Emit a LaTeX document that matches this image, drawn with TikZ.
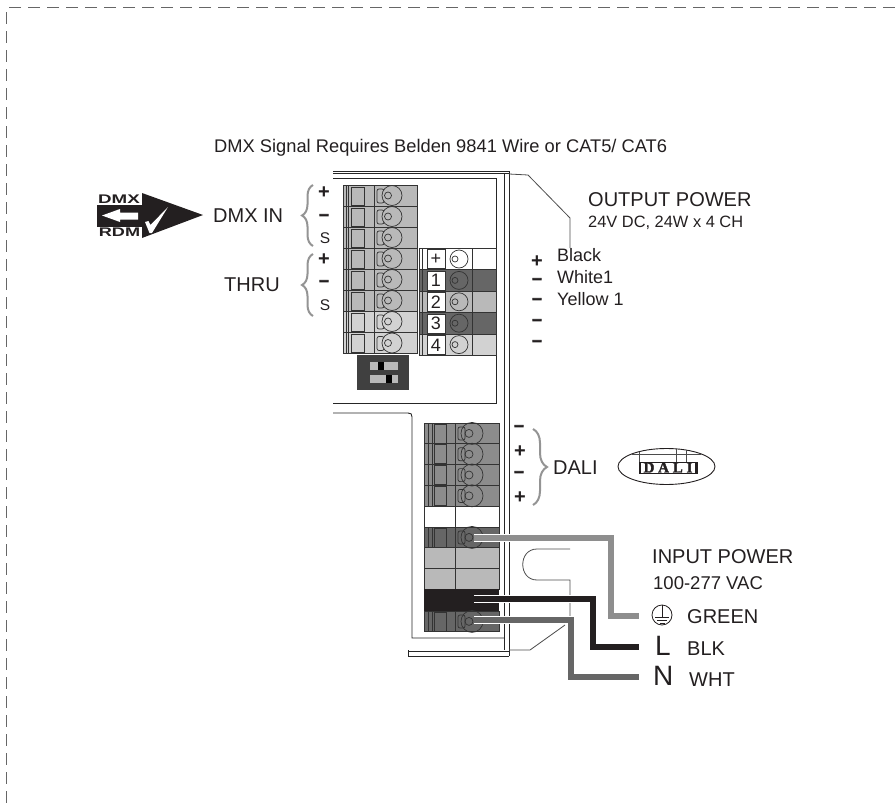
\documentclass[tikz,border=0pt]{standalone}
\usepackage{fontspec}
\setmainfont{Liberation Sans}
\newfontfamily\logoserif{Liberation Serif}
\usetikzlibrary{decorations.pathreplacing, shapes.geometric}

\definecolor{inkdark}{HTML}{231F20}
\definecolor{rowgray}{HTML}{B9B9B9}
\definecolor{rowlight}{HTML}{D2D2D2}
\definecolor{rowdark}{HTML}{666666}
\definecolor{rowmid}{HTML}{8C8C8C}
\definecolor{wiregreen}{HTML}{8E8E8E}
\definecolor{wirewht}{HTML}{666666}

\newcommand{\leftrow}[2]{
	\fill [#2] (343,#1) rectangle (417,#1+21);
	\draw [part] (343,#1) rectangle (417,#1+21);
	\draw [part] (346,#1) -- (346,#1+21);
	\draw [part] (348,#1) -- (348,#1+21);
	\draw [part] (351,#1+2) rectangle (364,#1+20);
	\draw [part] (374,#1) -- (374,#1+21);
	\draw [part, rounded corners=2] (377,#1+4) rectangle (384,#1+18);
	\draw [part, fill=#2] (392,#1+10.5) circle (10);
	\draw [part] (388,#1+10.5) circle (3.5);
}
\newcommand{\rightrow}[3]{
	\fill [#2] (419,#1) rectangle (496,#1+21.4);
	\draw [part] (419,#1) rectangle (496,#1+21.4);
	\draw [part] (422,#1) -- (422,#1+21.4);
	\draw [part] (472,#1) -- (472,#1+21.4);
	\node (label#3) [part, draw, fill=white, minimum width=18, minimum height=19, font=\fontsize{18}{18}\selectfont] at (436,#1+11) {#3};
	\draw [part, fill=#2] (459,#1+10.7) circle (9);
	\draw [part] (455,#1+10.7) circle (3);
}
\newcommand{\lowrow}[2]{
	\fill [#2] (424,#1) rectangle (499,#1+20.8);
	\draw [part] (424,#1) rectangle (499,#1+20.8);
	\draw [part] (455,#1) -- (455,#1+20.8);
}
\newcommand{\lowscrew}[1]{
	\draw [part] (428,#1) -- (428,#1+20.8);
	\draw [part] (432,#1) -- (432,#1+20.8);
	\draw [part] (434,#1+1) rectangle (446,#1+20);
	\draw [part, rounded corners=2] (458,#1+4) rectangle (465,#1+17);
	\draw [part] (472,#1+10.4) circle (11);
	\draw [part] (469,#1+10.4) circle (4);
}

\begin{document}
\begin{tikzpicture}[x=1pt, y=-1pt]
	\tikzstyle{every node} = [inner sep=0, text=inkdark]
	\tikzstyle{part} = [draw=black!80, line width=0.7]
	\tikzstyle{case} = [draw=black!85, line width=0.9]
	\tikzstyle{thinline} = [draw=black!70, line width=0.8]
	\tikzstyle{casing} = [draw=white, line width=7.5]
	\tikzstyle{brace} = [draw=black!42, line width=2, decorate]
	\tikzstyle{big} = [font=\fontsize{20}{21}\selectfont]
	\tikzstyle{mid} = [font=\fontsize{18}{20}\selectfont]
	\tikzstyle{small} = [font=\fontsize{15.5}{17}\selectfont]
	\tikzstyle{plus} = [font=\fontsize{20}{21}\bfseries\selectfont]
	\tikzstyle{minus} = [font=\fontsize{17}{18}\bfseries\addfontfeature{FakeBold=5}\selectfont]
	\tikzstyle{logotext} = [font=\fontsize{12.5}{14}\bfseries\selectfont]
	\useasboundingbox (0,0) rectangle (895,806);

	% cut line
	\draw [black!60, line width=1, dash pattern=on 12 off 7] (895,7.5) -- (6.5,7.5) -- (6.5,806);

	\node (title) [anchor=west, font=\fontsize{18.3}{20}\selectfont] at (214,148) {DMX Signal Requires Belden 9841 Wire or CAT5/ CAT6};

	% housing
	\draw [case] (333,171) -- (509,171);
	\draw [case] (333,173.5) -- (509,173.5);
	\draw [case] (333,178) -- (496,178) -- (496,403) -- (333,403);
	\draw [case] (333,413) -- (408,413) .. controls (411,413) and (412,414) .. (412,417) -- (412,638) -- (504,638);
	\draw [case] (504,173) -- (504,650);
	\draw [case] (509,171) -- (509,656);
	\draw [case] (408,651) -- (509,651);
	\draw [case] (408,656) -- (509,656);
	\draw [case] (408,650) -- (408,657);

	% thin outlines
	\draw [thinline] (509,174) -- (528,175) -- (570,218) -- (570,248);
	\draw [thinline] (509,650) -- (530,650) -- (565,625);
	\draw [thinline] (570,549) -- (537,549) .. controls (518,549) and (518,580) .. (537,580) -- (570,580) -- (570,617);

	% top left block
	\foreach \y in {185,206,227,248,269,290}
		\leftrow{\y}{rowgray};
	\foreach \y in {311,332.5}
		\leftrow{\y}{rowlight};

	% outputs
	\rightrow{248.3}{white}{+}
	\rightrow{269.7}{rowdark}{1}
	\rightrow{291.1}{rowgray}{2}
	\rightrow{312.5}{rowdark}{3}
	\rightrow{333.9}{rowlight}{4}

	% switch
	\fill [black!75] (357,355) rectangle (409,390);
	\fill [rowgray] (370,362) rectangle (398,370);
	\fill [rowgray] (370,375) rectangle (398,383);
	\fill [black] (378,362) rectangle (384,370);
	\fill [black] (386,375) rectangle (392,383);

	% bottom block
	\foreach \y in {423,443.8,464.6,485.4}
		\lowrow{\y}{rowmid};
	\lowrow{506.2}{white}
	\lowrow{527}{rowdark}
	\lowrow{547.8}{rowgray}
	\lowrow{568.6}{rowgray}
	\fill [inkdark] (424,589.4) rectangle (499,611);
	\lowrow{611}{rowdark}
	\foreach \y in {423,443.8,464.6,485.4,527,611}
		\lowscrew{\y};

	% wires
	\coordinate (gnda) at (474,538);
	\coordinate (gndb) at (611,538);
	\coordinate (gndc) at (611,616);
	\coordinate (gndd) at (639,616);
	\coordinate (lina) at (474,599);
	\coordinate (linb) at (593,599);
	\coordinate (linc) at (593,647);
	\coordinate (lind) at (639,647);
	\coordinate (neua) at (474,620);
	\coordinate (neub) at (571,620);
	\coordinate (neuc) at (571,677);
	\coordinate (neud) at (639,677);
	\draw [casing] (gnda)--(gndb)--(gndc)--(gndd);
	\draw [wiregreen, line width=5.5] (gnda)--(gndb)--(gndc)--(gndd);
	\draw [casing] (lina)--(linb)--(linc)--(lind);
	\draw [inkdark, line width=5.5] (lina)--(linb)--(linc)--(lind);
	\draw [casing] (neua)--(neub)--(neuc)--(neud);
	\draw [wirewht, line width=5.5] (neua)--(neub)--(neuc)--(neud);

	% logo
	\fill [inkdark] (97,205) rectangle (143,227);
	\fill [inkdark] (142,193) -- (203,215) -- (142,238) -- cycle;
	\fill [white] (102,215.5) -- (120,209) -- (120,212.5) -- (138,212.5) -- (138,219.5) -- (120,219.5) -- (120,222) -- cycle;
	\fill [white] (145,222) -- (148.5,221) -- (150.5,225) -- (168,207) -- (152,233) -- (149.5,233) -- cycle;
	\node (logodmx) [logotext] at (119,199.5) {\scalebox{1.5}[1]{DMX}};
	\node (logordm) [logotext] at (119.5,232.5) {\scalebox{1.45}[1]{RDM}};

	\node (dmxin) [big, anchor=west] at (213,216) {DMX IN};
	\node (thru) [big] at (252,285) {THRU};
	\draw [brace, decoration={brace, amplitude=11}] (313,246) -- (313,185);
	\draw [brace, decoration={brace, amplitude=11}] (313,316) -- (313,254);
	\node (inplus) [plus] at (324,193) {+};
	\node (inminus) [minus] at (324,217) {–};
	\node (ins) [small] at (325,238) {S};
	\node (thplus) [plus] at (324,260) {+};
	\node (thminus) [minus] at (324,283) {–};
	\node (ths) [small] at (325,305) {S};

	\node (outtitle) [big, anchor=west] at (588,200) {OUTPUT POWER};
	\node (outrate) [font=\fontsize{16.4}{18}\selectfont, anchor=west] at (588,223) {24V DC, 24W x 4 CH};
	\node (outplus) [plus] at (537,262) {+};
	\foreach \y/\n in {281/a,301/b,322/c,343/d}
		\node (outminus\n) [minus] at (537,\y) {–};
	\node (black) [mid, anchor=west] at (557,255) {Black};
	\node (white) [mid, anchor=west] at (557,277) {White1};
	\node (yellow) [mid, anchor=west] at (557,299) {Yellow 1};

	\node (dalia) [minus] at (519,428) {–};
	\node (dalib) [plus] at (520,452) {+};
	\node (dalic) [minus] at (519,474) {–};
	\node (dalid) [plus] at (520,498) {+};
	\draw [brace, decoration={brace, amplitude=14}] (533,429) -- (533,505);
	\node (dali) [big, anchor=west] at (553,468) {DALI};

	% dali logo
	\node (dalilogo) [draw=inkdark, line width=0.9, ellipse, minimum width=97, minimum height=36] at (666.5,466.5) {};
	\draw [thinline] (632,454) -- (701,454);
	\draw [thinline] (639,452) -- (639,462);
	\draw [thinline] (676,449) -- (676,462);
	\draw [thinline] (686,450) -- (686,462);
	\draw [inkdark, line width=0.8] (639,462) rectangle (697,473);
	\draw [inkdark, line width=2] (640,462) -- (640,473);
	\draw [inkdark, line width=2] (696,462) -- (696,473);
	\node (daliword) [font=\fontsize{15}{15}\logoserif\bfseries\selectfont] at (668,467.5) {\addfontfeature{LetterSpace=25,FakeBold=2}DALI};

	\node (inputtitle) [big, anchor=west] at (652,557) {INPUT POWER};
	\node (inputrate) [anchor=west, font=\fontsize{18.5}{20}\selectfont] at (653,583) {100-277 VAC};

	% ground symbol
	\node (gnd) [draw=inkdark, line width=0.8, circle, minimum size=20] at (662,615) {};
	\draw [inkdark, line width=0.8] (662,605) -- (662,617);
	\draw [inkdark, line width=0.8] (655,617) -- (669,617);
	\draw [inkdark, line width=0.8] (657,620) -- (667,620);
	\draw [inkdark, line width=0.8] (659.5,623) -- (664.5,623);

	\node (green) [big, anchor=west] at (687,617) {GREEN};
	\node (linel) [font=\fontsize{28}{28}\selectfont, anchor=west] at (655,646) {L};
	\node (blk) [big, anchor=west] at (687,649) {BLK};
	\node (neun) [font=\fontsize{28}{28}\selectfont, anchor=west] at (653,676) {N};
	\node (wht) [big, anchor=west] at (689,680) {WHT};
\end{tikzpicture}
\end{document}
